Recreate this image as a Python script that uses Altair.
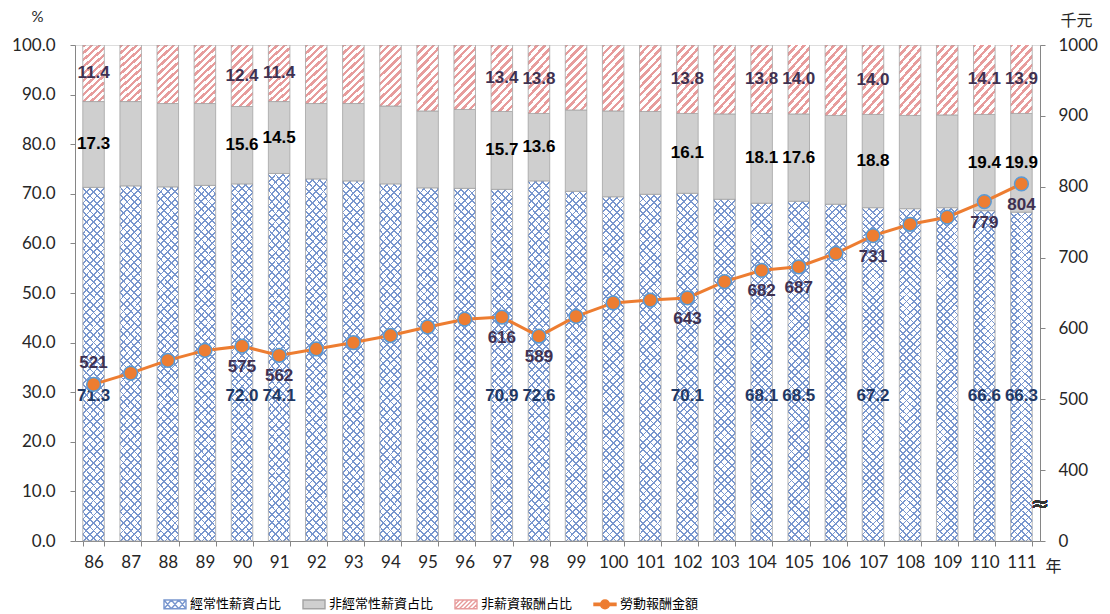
import altair as alt
import pandas as pd

# ---------------- data ----------------
years = [str(y) for y in range(86, 112)]
regular = [71.3, 71.6, 71.4, 71.7, 72.0, 74.1, 73.0, 72.6, 72.0, 71.2, 71.1, 70.9, 72.6,
           70.5, 69.4, 69.9, 70.1, 68.9, 68.1, 68.5, 67.9, 67.2, 67.0, 67.2, 66.6, 66.3]
irregular = [17.3, 17.0, 16.8, 16.5, 15.6, 14.5, 15.2, 15.6, 15.7, 15.5, 15.9, 15.7, 13.6,
             16.4, 17.3, 16.7, 16.1, 17.2, 18.1, 17.6, 17.9, 18.8, 18.8, 18.7, 19.4, 19.9]
non_wage = [11.4, 11.4, 11.8, 11.8, 12.4, 11.4, 11.8, 11.8, 12.3, 13.3, 13.0, 13.4, 13.8,
            13.1, 13.3, 13.4, 13.8, 13.9, 13.8, 14.0, 14.2, 14.0, 14.2, 14.1, 14.1, 13.9]
amount = [521, 537, 555, 569, 575, 562, 571, 580, 590, 602, 613, 616, 589,
          617, 636, 640, 643, 666, 682, 687, 706, 731, 747, 757, 779, 804]
labeled_years = ["86", "90", "91", "97", "98", "102", "104", "105", "107", "110", "111"]
series_names = ["經常性薪資占比", "非經常性薪資占比", "非薪資報酬占比", "勞動報酬金額"]
left_ticks = [0, 10, 20, 30, 40, 50, 60, 70, 80, 90, 100]
right_ticks = [300, 400, 500, 600, 700, 800, 900, 1000]   # 300 sits at the axis break, shown as 0

df = pd.DataFrame({"yr": years, "reg": regular, "irr": irregular,
                   "non": non_wage, "amt": amount})
legend_df = pd.DataFrame({"series": series_names})

# ---------------- styles ----------------
W, H = 965, 496
BLUE_LINE = "#7896CE"
RED_LINE = "#E79C9C"
GRAY = "#CFCFCF"
EDGE = "#A3A3A3"
ORANGE = "#ED7D31"
CLEAR = "rgba(255,255,255,0)"
REG_LABEL_LEVEL = 29.3   # where the blue-segment labels were placed in the original


def stripes(color, bg, periods, frac, x1, y1, x2, y2):
    stops = []
    for i in range(periods):
        a = round(i / periods, 5)
        b = round((i + frac) / periods, 5)
        c = round((i + 1) / periods, 5)
        stops += [alt.GradientStop(color=color, offset=a),
                  alt.GradientStop(color=color, offset=b),
                  alt.GradientStop(color=bg, offset=b),
                  alt.GradientStop(color=bg, offset=c)]
    return alt.LinearGradient(gradient="linear", stops=stops, x1=x1, y1=y1, x2=x2, y2=y2)


blue_fwd = stripes(BLUE_LINE, "white", 50, 0.24, 0, 0, 0.0671, 1.0592)
blue_back = stripes(BLUE_LINE, CLEAR, 50, 0.24, 1, 0, 1 - 0.0671, 1.0592)
red_fwd = stripes(RED_LINE, "white", 11, 0.45, 0, 0, 0.413, 1.202)

# legend symbol paths
rect = "M-1,-0.4H1V0.4H-1Z"
cross = rect + "".join(
    f"M{x0:.3f},0.4L{x0 + 0.667:.3f},-0.4M{x0:.3f},-0.4L{x0 + 0.667:.3f},0.4"
    for x0 in (-1.0, -0.333, 0.333))
diag = rect + "M-1,0L-0.6,-0.4" + "".join(
    f"M{x0:.2f},0.4L{x0 + 0.8:.2f},-0.4" for x0 in (-1.0, -0.6, -0.2, 0.2)) + "M0.6,0.4L1,0"
line_dot = "M-1,-0.1H1V0.1H-1ZM0.4,0A0.4,0.4 0 1,1 -0.4,0A0.4,0.4 0 1,1 0.4,0Z"

LABEL_FONT = "Liberation Sans"
AXIS_FONT = "Lato"
CJK = "Noto Sans CJK TC"

x_enc = alt.X("yr:N", sort=years,
              scale=alt.Scale(paddingInner=0.42, paddingOuter=0.21),
              axis=alt.Axis(title="年", labelAngle=0, tickBand="extent",
                            labelFont=AXIS_FONT, labelFontSize=17, labelColor="#262626",
                            labelPadding=8, domainColor="#868686", tickColor="#868686",
                            tickSize=5, grid=False,
                            titleFont=CJK, titleFontSize=16, titleFontWeight="normal",
                            titleColor="#262626", titleAngle=0, titleAlign="center",
                            titleBaseline="middle", titleX=978, titleY=25))

left_scale = alt.Scale(domain=[0, 100], nice=False, zero=True)
left_axis = alt.Axis(title="%", values=left_ticks, format=".1f", grid=False,
                     labelFont=AXIS_FONT, labelFontSize=17, labelColor="#262626",
                     labelPadding=15, tickSize=5, domainColor="#868686", tickColor="#868686",
                     titleFont=AXIS_FONT, titleFontSize=15, titleFontWeight="normal",
                     titleColor="#262626", titleAngle=0, titleAlign="center",
                     titleBaseline="middle", titleX=-38, titleY=-29)

right_scale = alt.Scale(domain=[300, 1000], nice=False, zero=False)
right_axis = alt.Axis(title="千元", orient="right", values=right_ticks, grid=False,
                      format="d",
                      labelExpr="datum.value == 300 ? '0' : datum.label",
                      labelFont=AXIS_FONT, labelFontSize=17, labelColor="#262626",
                      labelPadding=13, tickSize=5, domainColor="#868686", tickColor="#868686",
                      titleFont=CJK, titleFontSize=16, titleFontWeight="normal",
                      titleColor="#262626", titleAngle=0, titleAlign="center",
                      titleBaseline="middle", titleX=36, titleY=-25)

base = alt.Chart(df).transform_calculate(
    top1="datum.reg + datum.irr",
    top2="datum.reg + datum.irr + datum.non",
)

# ---------------- bars ----------------
blue_bg = base.mark_bar(fill=blue_fwd, strokeWidth=0).encode(
    x=x_enc, y=alt.Y("reg:Q", scale=left_scale, axis=left_axis))
blue_fg = base.mark_bar(fill=blue_back, stroke=EDGE, strokeWidth=0.8).encode(
    x=x_enc, y=alt.Y("reg:Q", scale=left_scale, axis=left_axis))
gray_bar = base.mark_bar(fill=GRAY, stroke=EDGE, strokeWidth=0.8).encode(
    x=x_enc, y=alt.Y("top1:Q", scale=left_scale, axis=left_axis), y2="reg:Q")
red_bar = base.mark_bar(fill=red_fwd, stroke=EDGE, strokeWidth=0.8, clip=True).encode(
    x=x_enc, y=alt.Y("top2:Q", scale=left_scale, axis=left_axis), y2="top1:Q")

lab = base.transform_filter(alt.FieldOneOfPredicate(field="yr", oneOf=labeled_years))

reg_lab = lab.transform_calculate(mid=str(REG_LABEL_LEVEL)).mark_text(
    font=LABEL_FONT, fontWeight="bold", fontSize=17, color="#1F3864").encode(
    x=x_enc, y=alt.Y("mid:Q", scale=left_scale, axis=left_axis),
    text=alt.Text("reg:Q", format=".1f"))
irr_lab = lab.transform_calculate(mid="datum.reg + datum.irr / 2").mark_text(
    font=LABEL_FONT, fontWeight="bold", fontSize=17, color="#000000").encode(
    x=x_enc, y=alt.Y("mid:Q", scale=left_scale, axis=left_axis),
    text=alt.Text("irr:Q", format=".1f"))
non_lab = lab.transform_calculate(mid="datum.reg + datum.irr + datum.non / 2").mark_text(
    font=LABEL_FONT, fontWeight="bold", fontSize=17, color="#3F3151").encode(
    x=x_enc, y=alt.Y("mid:Q", scale=left_scale, axis=left_axis),
    text=alt.Text("non:Q", format=".1f"))

leg = alt.Legend(title=None, orient="none", direction="horizontal", legendX=88, legendY=547,
                 symbolSize=484, symbolStrokeWidth=1.4, symbolOpacity=1,
                 labelFont=CJK, labelFontSize=13, labelColor="#000000",
                 labelOffset=3, columnPadding=18)
legend_layer = alt.Chart(legend_df).transform_filter("false").mark_point(
    filled=True, opacity=1).encode(
    fill=alt.Fill("series:N", legend=leg,
                  scale=alt.Scale(domain=series_names,
                                  range=["white", GRAY, "white", ORANGE])),
    stroke=alt.Stroke("series:N", legend=leg,
                      scale=alt.Scale(domain=series_names,
                                      range=[BLUE_LINE, EDGE, RED_LINE, ORANGE])),
    shape=alt.Shape("series:N", legend=leg,
                    scale=alt.Scale(domain=series_names,
                                    range=[cross, rect, diag, line_dot])),
)

left = alt.layer(blue_bg, blue_fg, gray_bar, red_bar, reg_lab, irr_lab, non_lab, legend_layer)

# ---------------- line ----------------
y_amt = alt.Y("amt:Q", scale=right_scale, axis=right_axis)
line = base.mark_line(color=ORANGE, strokeWidth=3).encode(x=x_enc, y=y_amt)
pts = base.mark_point(filled=True, fill=ORANGE, stroke="#5B9BD5", strokeWidth=1.5,
                      size=190, opacity=1, shape="circle").encode(x=x_enc, y=y_amt)
amt_lab_below = lab.transform_filter("datum.yr != '86'").mark_text(
    font=LABEL_FONT, fontWeight="bold", fontSize=17, color="#3F3151", dy=21).encode(
    x=x_enc, y=y_amt, text="amt:Q")
amt_lab_above = lab.transform_filter("datum.yr == '86'").mark_text(
    font=LABEL_FONT, fontWeight="bold", fontSize=17, color="#3F3151", dy=-21).encode(
    x=x_enc, y=y_amt, text="amt:Q")
brk = alt.Chart(df).mark_text(text="≈", fontSize=22, color="#333333",
                              font="DejaVu Sans").encode(
    x=alt.value(W), y=alt.YDatum(352, scale=right_scale, axis=right_axis))

right = alt.layer(line, pts, amt_lab_below, amt_lab_above, brk)

chart = alt.layer(left, right).resolve_scale(y="independent").properties(
    width=W, height=H,
    autosize=alt.AutoSizeParams(type="none"),
    padding={"left": 67, "top": 37, "right": 60, "bottom": 73},
).configure_view(stroke=None).configure(background="white")

chart.save("out.html", embed_options={"renderer": "svg", "actions": False})
